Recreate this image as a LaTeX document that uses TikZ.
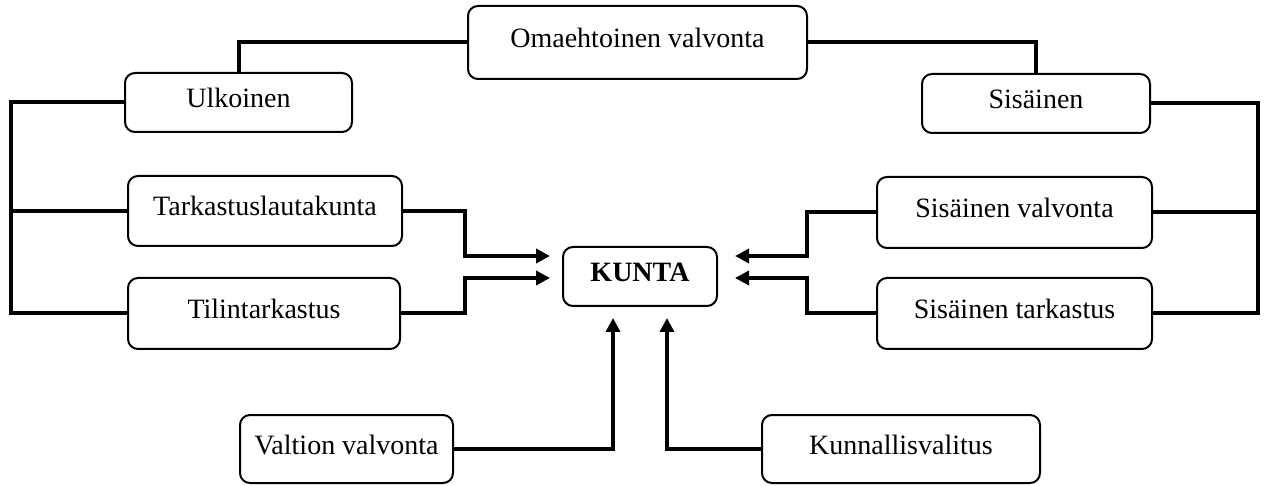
\documentclass[tikz,border=0pt]{standalone}
\usepackage{fontspec}
\setmainfont{Liberation Serif}
\usetikzlibrary{arrows.meta}

\begin{document}
\begin{tikzpicture}[x=1pt, y=-1pt,
    box/.style={draw, line width=2pt, rounded corners=10pt, inner sep=0pt,
        font=\fontsize{28}{34}\selectfont, text height=20pt, text depth=10pt},
    conn/.style={line width=4pt},
    arr/.style={conn, -{Triangle[length=14pt,width=14pt]}}]
    \useasboundingbox (0,0) rectangle (1267,486);

    % Boxes
    \foreach \name/\x/\y/\w/\h/\txt in {
        omaeh/637.5/42.5/339/73/Omaehtoinen valvonta,
        ulko/238.5/102.5/227/59/Ulkoinen,
        tarkl/265/211/274/70/Tarkastuslautakunta,
        tilin/264/313.5/272/71/Tilintarkastus,
        kunta/640/276.5/154/59/\textbf{KUNTA},
        sisa/1036/103.5/228/59/Sisäinen,
        sisv/1014.5/212.5/275/71/Sisäinen valvonta,
        sist/1014.5/313.5/275/71/Sisäinen tarkastus,
        valt/346.5/449/213/68/Valtion valvonta,
        kunv/901/449/278/68/Kunnallisvalitus} {
        \node[box, minimum width=\w pt, minimum height=\h pt] (\name) at (\x,\y) {\txt};
    }

    % Bracket and elbow positions
    \coordinate (lb) at (11,0);
    \coordinate (rb) at (1258,0);
    \coordinate (lx) at (465,0);
    \coordinate (rx) at (807,0);

    % Arrow ends at KUNTA
    \coordinate (kl1) at (550,256);
    \coordinate (kl2) at (550,278);
    \coordinate (kr1) at (735,256);
    \coordinate (kr2) at (735,278);
    \coordinate (kb1) at (613,318);
    \coordinate (kb2) at (667,318);

    % Top
    \draw[conn] (ulko.north) |- (omaeh.west);
    \draw[conn] (sisa.north) |- (omaeh.east);

    % Left side
    \draw[conn] (ulko.west) -- (ulko.west -| lb) -- (tilin.west -| lb) -- (tilin.west);
    \draw[conn] (tarkl.west) -- (tarkl.west -| lb);
    \draw[arr] (tarkl.east) -- (tarkl.east -| lx) |- (kl1);
    \draw[arr] (tilin.east) -- (tilin.east -| lx) |- (kl2);

    % Right side
    \draw[conn] (sisa.east) -- (sisa.east -| rb) -- (sist.east -| rb) -- (sist.east);
    \draw[conn] (sisv.east) -- (sisv.east -| rb);
    \draw[arr] (sisv.west) -- (sisv.west -| rx) |- (kr1);
    \draw[arr] (sist.west) -- (sist.west -| rx) |- (kr2);

    % Bottom
    \draw[arr] (valt.east) -| (kb1);
    \draw[arr] (kunv.west) -| (kb2);

\end{tikzpicture}
\end{document}
